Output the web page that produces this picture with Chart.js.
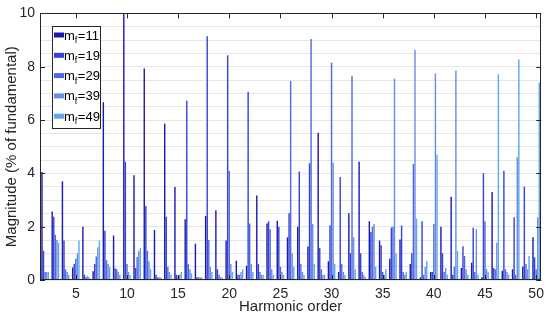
<!DOCTYPE html>
<html>
<head>
<meta charset="utf-8">
<script src="https://cdn.jsdelivr.net/npm/chart.js@4.4.1/dist/chart.umd.min.js"></script>
<style>
  html, body { margin: 0; padding: 0; background: #fff; }
  #wrap { width: 550px; height: 321px; position: relative; }
</style>
</head>
<body>
<div id="wrap"><canvas id="chart"></canvas></div>
<script>
// --- dati (ordine armonico 2..50) ---
const harmonics = [2, 3, 4, 5, 6, 7, 8, 9, 10, 11, 12, 13, 14, 15, 16, 17, 18, 19, 20, 21, 22, 23, 24, 25, 26,
  27, 28, 29, 30, 31, 32, 33, 34, 35, 36, 37, 38, 39, 40, 41, 42, 43, 44, 45, 46, 47, 48, 49, 50];
const seriesLabels = ["11", "19", "29", "39", "49"];
const mf11 = [4.05, 2.57, 3.7, 0.47, 2.0, 0.33, 6.67, 1.67, 10.0, 3.93, 7.93, 1.88, 5.86, 3.49, 2.28, 1.36, 2.4,
  2.62, 1.48, 0.72, 0.53, 3.17, 2.12, 2.22, 1.6, 2.0, 1.26, 5.52, 0.7, 0.3, 2.5, 4.44, 2.2, 1.48, 0.8, 1.52, 0.6,
  0.1, 0.3, 2.0, 3.12, 0.45, 0.65, 0.1, 3.3, 0.35, 0.4, 0.5, 1.6];
const mf19 = [1.1, 2.37, 1.48, 0.6, 0.2, 0.6, 1.85, 0.44, 4.44, 0.45, 2.78, 0.2, 2.37, 0.2, 6.72, 0.1, 9.14, 0.4,
  8.43, 0.2, 7.06, 0.6, 2.2, 2.0, 2.5, 4.07, 4.38, 1.2, 2.04, 3.86, 1.0, 1.0, 1.8, 1.3, 1.97, 2.04, 1.0, 2.2, 0.3,
  1.0, 0.2, 1.27, 1.96, 4.0, 0.45, 4.1, 2.35, 3.5, 0.85];
const mf29 = [0.3, 1.7, 0.4, 0.8, 0.1, 0.88, 0.74, 0.4, 0.6, 0.86, 1.1, 0.1, 0.5, 0.15, 0.6, 0.1, 1.5, 0.2, 4.1,
  0.2, 2.12, 0.3, 1.9, 0.5, 7.46, 0.6, 9.04, 0.4, 8.15, 0.6, 7.65, 0.3, 2.0, 0.3, 2.0, 0.3, 4.35, 0.2, 2.1, 0.3,
  0.5, 0.9, 0.3, 2.2, 0.4, 0.4, 0.2, 0.6, 0.4];
const mf39 = [0.3, 1.5, 0.3, 1.0, 0.15, 1.23, 0.6, 0.3, 0.3, 1.1, 0.7, 0.1, 0.3, 0.2, 0.4, 0.1, 0.5, 0.1, 0.6,
  0.3, 0.6, 0.2, 0.4, 0.3, 1.0, 0.3, 2.1, 0.2, 4.4, 0.3, 1.6, 0.2, 2.1, 0.2, 7.56, 0.2, 8.64, 0.5, 7.75, 0.45,
  7.86, 0.4, 1.9, 0.4, 1.4, 0.3, 4.6, 0.4, 2.35];
const mf49 = [0.3, 1.4, 0.2, 1.48, 0.1, 1.48, 0.5, 0.2, 0.2, 1.2, 0.4, 0.1, 0.2, 0.3, 0.25, 0.1, 0.3, 0.1, 0.3,
  0.4, 0.3, 0.2, 0.2, 0.2, 0.5, 0.2, 0.6, 0.2, 0.6, 0.2, 0.4, 0.1, 0.5, 0.4, 1.0, 0.3, 2.3, 0.7, 4.7, 0.2, 1.1,
  0.2, 0.2, 0.3, 7.72, 0.2, 8.27, 0.9, 7.4];
const xTickLabels = [5, 10, 15, 20, 25, 30, 35, 40, 45, 50];
const yTickLabels = [0, 2, 4, 6, 8, 10];

const colors = ["#1a1ab4", "#3444d8", "#4f6ae0", "#6a8ee6", "#5fa8ee"];
const AXIS = "#262626";
const FONT = "'Liberation Sans', Helvetica, Arial, sans-serif";
Chart.defaults.font.family = FONT;

// box, tacche interne e legenda con pedice (stile MATLAB)
const matlabAxes = {
  id: "matlabAxes",
  afterDraw(chart) {
    const { ctx, chartArea: a, scales } = chart;
    ctx.save();
    ctx.strokeStyle = AXIS;
    ctx.lineWidth = 1;
    ctx.strokeRect(Math.round(a.left) + 0.5, Math.round(a.top) + 0.5,
      Math.round(a.right - a.left) - 1, Math.round(a.bottom - a.top) - 1);
    const tl = 5;
    ctx.beginPath();
    xTickLabels.forEach(h => {
      const x = Math.round(scales.x.getPixelForValue(harmonics.indexOf(h))) + 0.5;
      ctx.moveTo(x, a.bottom); ctx.lineTo(x, a.bottom - tl);
      ctx.moveTo(x, a.top); ctx.lineTo(x, a.top + tl);
    });
    yTickLabels.forEach(v => {
      const y = Math.round(scales.y.getPixelForValue(v)) + 0.5;
      ctx.moveTo(a.left, y); ctx.lineTo(a.left + tl, y);
      ctx.moveTo(a.right, y); ctx.lineTo(a.right - tl, y);
    });
    ctx.stroke();

    // legenda
    const lx = 52, ly = 26, lw = 48, lh = 102;
    ctx.fillStyle = "#fff";
    ctx.fillRect(lx, ly, lw, lh);
    ctx.strokeStyle = AXIS;
    ctx.strokeRect(lx + 0.5, ly + 0.5, lw, lh);
    ctx.textBaseline = "alphabetic";
    seriesLabels.forEach((lab, i) => {
      const cy = ly + 9 + i * 20.3;
      ctx.fillStyle = colors[i];
      ctx.fillRect(lx + 2, cy - 2.5, 10, 5);
      ctx.fillStyle = "#000";
      let tx = lx + 12;
      ctx.font = "13px " + FONT;
      ctx.fillText("m", tx, cy + 4.5);
      tx += ctx.measureText("m").width;
      ctx.font = "9px " + FONT;
      ctx.fillText("f", tx, cy + 8);
      tx += ctx.measureText("f").width + 0.5;
      ctx.font = "13px " + FONT;
      ctx.fillText("=" + lab, tx, cy + 4.5);
    });
    ctx.restore();
  }
};

new Chart(document.getElementById("chart"), {
  type: "bar",
  data: {
    labels: harmonics,
    datasets: [mf11, mf19, mf29, mf39, mf49].map((d, i) => ({
      label: "mf=" + seriesLabels[i],
      data: d,
      backgroundColor: colors[i],
      borderWidth: 0,
      categoryPercentage: 0.77,
      barPercentage: 0.9
    }))
  },
  options: {
    responsive: true,
    maintainAspectRatio: false,
    animation: false,
    layout: { padding: { top: 10, right: 6, left: 0, bottom: 0 } },
    plugins: { legend: { display: false }, tooltip: { enabled: false } },
    scales: {
      x: {
        offset: true,
        grid: { display: false, drawTicks: false },
        border: { display: false },
        ticks: {
          autoSkip: false, maxRotation: 0, padding: 6, color: AXIS, font: { size: 14 },
          callback: (v, i) => xTickLabels.includes(harmonics[i]) ? String(harmonics[i]) : ""
        },
        title: { display: true, text: "Harmonic order", color: AXIS, font: { size: 15 }, padding: { top: 0, bottom: 5 } },
        afterFit: s => { s.height = 41; }
      },
      y: {
        min: 0, max: 10,
        grid: { color: "#e6e6e6", drawTicks: false },
        border: { display: false },
        ticks: {
          stepSize: 0.5, autoSkip: false, padding: 5, color: AXIS, font: { size: 14 },
          callback: v => yTickLabels.includes(v) ? String(v) : ""
        },
        title: { display: true, text: "Magnitude (% of fundamental)", color: AXIS, font: { size: 15 }, padding: { top: 3, bottom: 0 } },
        afterFit: s => { s.width = 40; }
      }
    }
  },
  plugins: [matlabAxes]
});
</script>
</body>
</html>
